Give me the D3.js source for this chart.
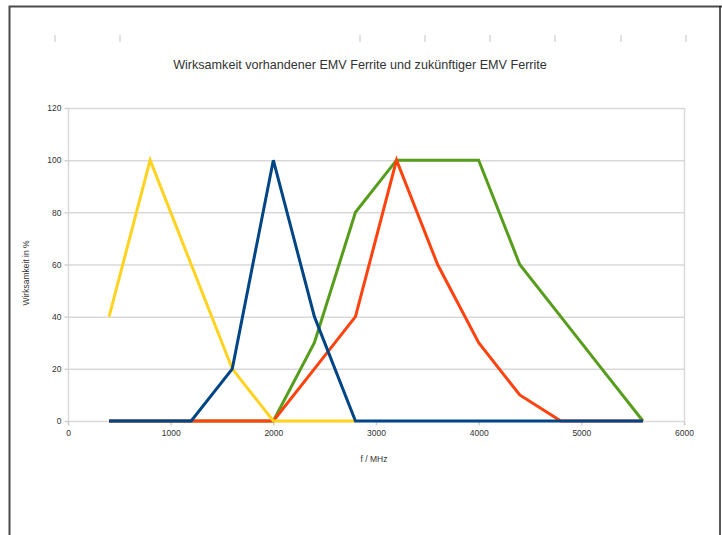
<!DOCTYPE html>
<html>
<head>
<meta charset="utf-8">
<script src="https://cdn.jsdelivr.net/npm/d3@7"></script>
<style>
  html, body { margin: 0; padding: 0; background: #fff; }
  svg { display: block; }
  text { font-family: "Liberation Sans", Arial, sans-serif; fill: #333; }
</style>
</head>
<body>
<svg id="chart" width="722" height="535"></svg>
<script>
// Frequency points (MHz) shared by all series
const freqs = [400, 800, 1200, 1600, 2000, 2400, 2800, 3200, 3600, 4000, 4400, 4800, 5200, 5600];

// Effectiveness in % per ferrite
const ferriteYellow = [40, 100, 60, 20, 0, 0, 0];
const ferriteBlue   = [0, 0, 0, 20, 100, 40, 0, 0, 0, 0, 0, 0, 0, 0];
const ferriteRed    = [0, 0, 0, 0, 0, 20, 40, 100, 60, 30, 10, 0, 0, 0];
const ferriteGreen  = [0, 0, 0, 0, 0, 30, 80, 100, 100, 100, 60, 40, 20, 0];

const xTicks = [0, 1000, 2000, 3000, 4000, 5000, 6000];
const yTicks = [0, 20, 40, 60, 80, 100, 120];

// Page ruler marks along the top of the sheet
const rulerMarks = [55, 120, 360, 425, 490, 555, 621, 686];

const titleText = "Wirksamkeit vorhandener EMV Ferrite und zukünftiger EMV Ferrite";
const xTitle = "f / MHz";
const yTitle = "Wirksamkeit in %";

const svg = d3.select("#chart");

// Sheet frame
svg.append("path")
  .attr("d", "M9.5,535 V6.5 H722")
  .attr("fill", "none").attr("stroke", "#4a4a4a").attr("stroke-width", 2);
svg.append("line")
  .attr("x1", 720).attr("x2", 720).attr("y1", 6).attr("y2", 535)
  .attr("stroke", "#222").attr("stroke-width", 1.5);

svg.append("g").selectAll("line").data(rulerMarks).join("line")
  .attr("x1", d => d).attr("x2", d => d).attr("y1", 35).attr("y2", 42)
  .attr("stroke", "#d8d8d8").attr("stroke-width", 1.5);

const plot = { left: 68, right: 684, top: 108, bottom: 421 };

const x = d3.scaleLinear().domain([0, 6000]).range([plot.left, plot.right]);
const y = d3.scaleLinear().domain([0, 120]).range([plot.bottom, plot.top]);

// Horizontal grid
svg.append("g").selectAll("line").data(yTicks).join("line")
  .attr("x1", plot.left).attr("x2", plot.right)
  .attr("y1", d => y(d) + 0.5).attr("y2", d => y(d) + 0.5)
  .attr("stroke", "#d9d9d9").attr("stroke-width", 1.5);

// Plot area sides
svg.append("g").selectAll("line").data([plot.left, plot.right]).join("line")
  .attr("x1", d => d + 0.5).attr("x2", d => d + 0.5)
  .attr("y1", plot.top).attr("y2", plot.bottom + 4)
  .attr("stroke", "#d9d9d9").attr("stroke-width", 1.5);

// Axes
const xAxis = d3.axisBottom(x).tickValues(xTicks).tickSize(4).tickPadding(4).tickFormat(d3.format("d"));
const yAxis = d3.axisLeft(y).tickValues(yTicks).tickSize(4).tickPadding(3).tickFormat(d3.format("d"));

const gx = svg.append("g").attr("transform", `translate(0,${plot.bottom + 0.5})`).call(xAxis);
const gy = svg.append("g").attr("transform", `translate(${plot.left + 0.5},0)`).call(yAxis);
[gx, gy].forEach(g => {
  g.select(".domain").remove();
  g.selectAll(".tick line").attr("stroke", "#d0d0d0").attr("stroke-width", 1.5);
  g.selectAll(".tick text").attr("font-size", 8.5).attr("fill", "#333")
    .style("font-family", "'Liberation Sans', Arial, sans-serif");
});

// Series, drawn bottom to top
const series = [
  { values: ferriteGreen,  color: "#579d1c" },
  { values: ferriteRed,    color: "#ff420e" },
  { values: ferriteYellow, color: "#ffd320" },
  { values: ferriteBlue,   color: "#004586" }
];

const line = d3.line().x(d => x(d[0])).y(d => y(d[1]));

svg.append("g").selectAll("path").data(series).join("path")
  .attr("d", s => line(s.values.map((v, i) => [freqs[i], v])))
  .attr("fill", "none")
  .attr("stroke", s => s.color)
  .attr("stroke-width", 3)
  .attr("stroke-linejoin", "miter");

// Titles
svg.append("text")
  .attr("x", 360).attr("y", 69)
  .attr("text-anchor", "middle").attr("font-size", 12.6).attr("fill", "#3a3a3a")
  .text(titleText);

svg.append("text")
  .attr("x", 374).attr("y", 462)
  .attr("text-anchor", "middle").attr("font-size", 8.5)
  .text(xTitle);

svg.append("text")
  .attr("transform", "translate(29,273) rotate(-90)")
  .attr("text-anchor", "middle").attr("font-size", 8.5)
  .text(yTitle);
</script>
</body>
</html>
